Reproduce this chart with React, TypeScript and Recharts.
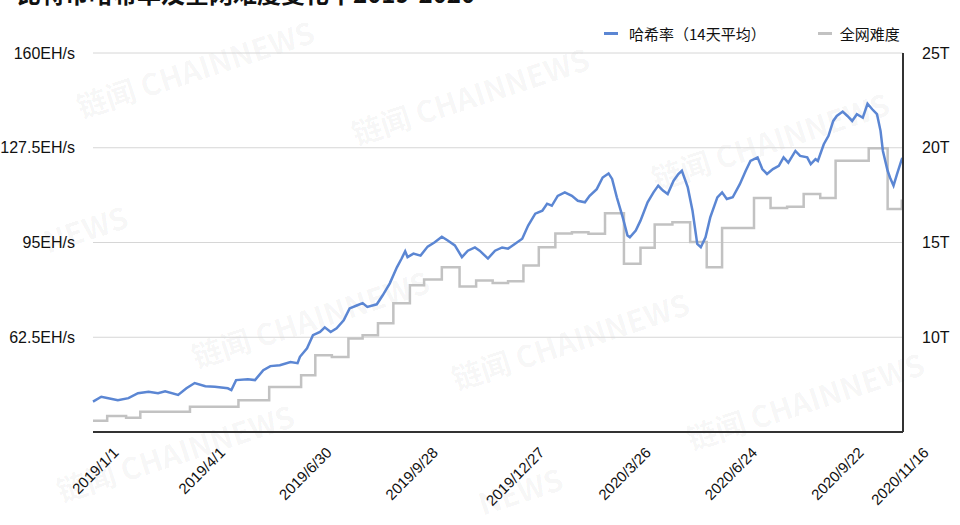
import { LineChart, Line, XAxis, YAxis, CartesianGrid } from "recharts";

// day index counted from 2019/1/1
const hashDays = [
  0, 7, 13, 21, 30, 38, 47, 55, 61, 72, 79, 86, 95, 103, 114, 117, 121, 131, 137, 144,
  150, 158, 167, 173, 175, 181, 186, 192, 196, 201, 206, 212, 217, 223, 228, 232, 240, 245, 251, 257,
  261, 264, 266, 271, 277, 283, 289, 295, 300, 306, 312, 317, 323, 327, 334, 340, 346, 351, 357, 363,
  368, 374, 380, 384, 388, 393, 399, 405, 410, 416, 420, 426, 431, 436, 439, 443, 448, 452, 454, 459,
  463, 469, 474, 478, 482, 486, 491, 495, 498, 503, 507, 511, 514, 518, 522, 528, 532, 536, 541, 547,
  552, 556, 562, 566, 570, 575, 580, 584, 588, 594, 598, 604, 607, 611, 613, 618, 622, 626, 629, 634,
  638, 642, 646, 651, 655, 659, 663, 666, 668, 672, 674, 677, 680, 684, 685,
];
const hashRate = [
  40.4, 42.1, 41.6, 40.9, 41.6, 43.3, 43.8, 43.3, 44.0, 42.7, 45.0, 46.8, 45.7, 45.5, 45.0, 44.4, 47.8, 48.1, 47.8, 51.2,
  52.6, 52.9, 54.0, 53.6, 55.8, 58.7, 63.2, 64.3, 65.9, 64.3, 65.6, 68.3, 72.4, 73.4, 74.2, 72.9, 73.8, 76.9, 81.0, 86.5,
  89.5, 92.0, 90.0, 91.2, 90.5, 93.6, 95.1, 97.0, 95.7, 94.0, 90.0, 92.2, 93.3, 92.2, 89.5, 92.2, 93.3, 92.9, 94.6, 96.3,
  100.8, 104.9, 105.9, 108.3, 107.6, 111.0, 112.2, 111.0, 109.3, 108.8, 111.0, 113.3, 117.3, 118.7, 116.8, 110.5, 103.6, 97.4, 96.8, 99.1,
  102.5, 108.8, 112.2, 114.5, 112.8, 111.6, 116.2, 118.5, 119.6, 113.9, 105.9, 94.5, 93.4, 96.8, 103.6, 110.5, 112.2, 109.9, 110.5, 115.0,
  119.6, 123.0, 124.2, 120.2, 118.5, 120.2, 121.3, 124.2, 122.4, 126.4, 124.7, 124.2, 121.9, 123.6, 123.0, 128.7, 131.6, 136.7, 138.4, 139.9,
  138.4, 136.7, 139.0, 137.8, 142.6, 140.7, 139.0, 133.3, 126.4, 119.6, 117.3, 114.5, 118.5, 123.6, 124.0,
];

const diffDays = [
  0, 12, 28, 40, 82, 123, 149, 176, 188, 202, 216, 228, 241, 254, 268, 280, 295, 310, 324, 338,
  351, 364, 377, 391, 405, 419, 433, 449, 463, 475, 490, 505, 519, 532, 559, 573, 587, 601, 615, 628,
  656, 672, 684, 685,
];
const difficulty = [
  5.59, 5.84, 5.75, 6.07, 6.33, 6.68, 7.38, 8.0, 9.05, 8.96, 9.93, 10.1, 10.74, 11.79, 12.74, 13.05, 13.7, 12.68, 13.0, 12.86,
  12.96, 13.79, 14.75, 15.47, 15.54, 15.46, 16.54, 13.88, 14.72, 15.95, 16.07, 15.02, 13.7, 15.77, 17.35, 16.82, 16.89, 17.56, 17.35, 19.31,
  19.98, 16.77, 17.2, 17.2,
];

const tickDays = [0, 90, 180, 270, 360, 450, 540, 630, 685];
const tickLabels = [
  "2019/1/1", "2019/4/1", "2019/6/30", "2019/9/28", "2019/12/27",
  "2020/3/26", "2020/6/24", "2020/9/22", "2020/11/16",
];
const leftTicks = [30, 62.5, 95, 127.5, 160];
const rightTicks = [5, 10, 15, 20, 25];

const hashData = hashDays.map((d, i) => ({ day: d, hash: hashRate[i] }));
const diffData = diffDays.map((d, i) => ({ day: d, diff: difficulty[i] }));

// faint site watermarks (only the parts that show in the picture)
const watermarks = [
  { x: 195, y: 68, t: "链闻 CHAINNEWS" },
  { x: 470, y: 95, t: "链闻 CHAINNEWS" },
  { x: 770, y: 140, t: "链闻 CHAINNEWS" },
  { x: 85, y: 228, t: "NEWS" },
  { x: 310, y: 318, t: "链闻 CHAINNEWS" },
  { x: 570, y: 340, t: "链闻 CHAINNEWS" },
  { x: 805, y: 400, t: "链闻 CHAINNEWS" },
  { x: 175, y: 452, t: "链闻 CHAINNEWS" },
  { x: 520, y: 490, t: "NEWS" },
];

const font = "'Liberation Sans', Arial, sans-serif";
const cjk = "'Noto Sans CJK SC', sans-serif";

function DateTick(props: any) {
  const { x, y, payload } = props;
  const idx = tickDays.indexOf(payload.value);
  return (
    <g transform={`translate(${x + 23},${y + 10})`}>
      <text
        textAnchor="end"
        transform="rotate(-45)"
        dy="0.35em"
        fontSize={15}
        fill="#111"
        fontFamily={font}
      >
        {tickLabels[idx]}
      </text>
    </g>
  );
}

export default function App() {
  return (
    <div
      style={{
        position: "absolute",
        left: 0,
        top: 0,
        width: 960,
        height: 525,
        background: "#fff",
        overflow: "hidden",
      }}
    >
      {watermarks.map((w, i) => (
        <div
          key={i}
          style={{
            position: "absolute",
            left: w.x,
            top: w.y,
            fontFamily: cjk,
            fontWeight: 700,
            fontSize: 30,
            lineHeight: "34px",
            color: "rgba(0,0,0,0.045)",
            transform: "translate(-50%, -50%) rotate(-18deg)",
            whiteSpace: "nowrap",
            pointerEvents: "none",
          }}
        >
          {w.t}
        </div>
      ))}
      <div
        style={{
          position: "absolute",
          left: 17,
          top: -19,
          fontFamily: cjk,
          fontWeight: 700,
          fontSize: 24,
          lineHeight: "24px",
          color: "#111",
          whiteSpace: "nowrap",
        }}
      >
        比特币哈希率及全网难度变化丨2019-2020
      </div>
      <div
        style={{
          position: "absolute",
          left: 604,
          top: 23,
          display: "flex",
          alignItems: "center",
          fontFamily: cjk,
          fontSize: 15,
          color: "#111",
          whiteSpace: "nowrap",
        }}
      >
        <span style={{ display: "inline-block", width: 14, height: 3, background: "#5b86d3", marginRight: 11 }} />
        <span>哈希率（14天平均）</span>
        <span style={{ display: "inline-block", width: 14, height: 3, background: "#c2c2c2", marginLeft: 52, marginRight: 8 }} />
        <span>全网难度</span>
      </div>
      <LineChart
        width={960}
        height={525}
        margin={{ top: 53, right: 0, bottom: 0, left: 0 }}
        style={{ position: "absolute", left: 0, top: 0 }}
      >
        <CartesianGrid yAxisId="left" vertical={false} stroke="#d6d6d6" strokeWidth={1} />
        <XAxis
          dataKey="day"
          type="number"
          domain={[0, 685]}
          ticks={tickDays}
          interval={0}
          height={93}
          tick={<DateTick />}
          tickLine={false}
          axisLine={{ stroke: "#333", strokeWidth: 2 }}
          allowDuplicatedCategory={false}
        />
        <YAxis
          yAxisId="left"
          domain={[30, 160]}
          ticks={leftTicks}
          width={93}
          tickFormatter={(v: number) => (v === 30 ? "" : `${v}EH/s`)}
          tick={{ fontSize: 16, fill: "#111", fontFamily: font }}
          tickLine={false}
          axisLine={false}
          tickMargin={12}
        />
        <YAxis
          yAxisId="right"
          orientation="right"
          domain={[5, 25]}
          ticks={rightTicks}
          width={57}
          tickFormatter={(v: number) => (v === 5 ? "" : `${v}T`)}
          tick={{ fontSize: 16, fill: "#111", fontFamily: font }}
          tickLine={false}
          axisLine={{ stroke: "#333", strokeWidth: 2 }}
          tickMargin={13}
        />
        <Line
          yAxisId="right"
          data={diffData}
          dataKey="diff"
          type="stepAfter"
          stroke="#c2c2c2"
          strokeWidth={2.5}
          dot={false}
          isAnimationActive={false}
        />
        <Line
          yAxisId="left"
          data={hashData}
          dataKey="hash"
          type="linear"
          stroke="#5b86d3"
          strokeWidth={2.5}
          dot={false}
          isAnimationActive={false}
        />
      </LineChart>
    </div>
  );
}
